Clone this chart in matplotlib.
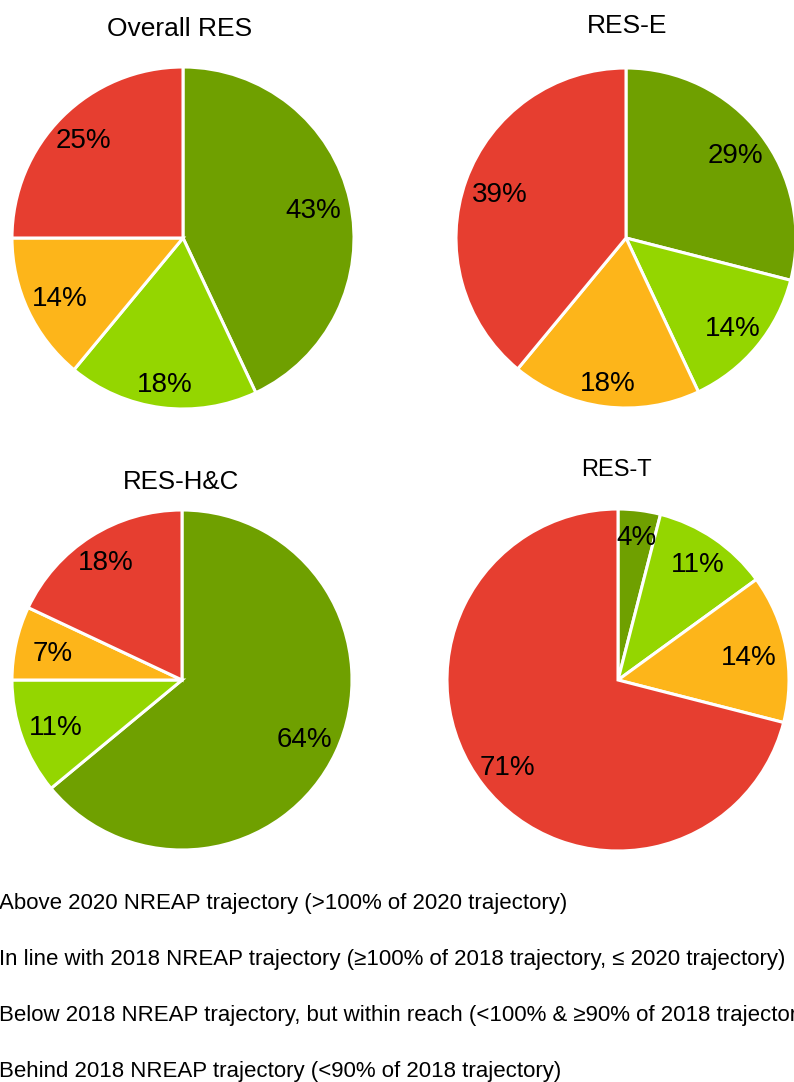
import matplotlib

matplotlib.use("Agg")
import matplotlib.pyplot as plt  # noqa: E402
import numpy as np  # noqa: E402

plt.rcParams["font.family"] = ["Liberation Sans", "DejaVu Sans"]

# categories, in wedge order (clockwise from 12 o'clock)
categories = [
    "Above 2020 NREAP trajectory (>100% of 2020 trajectory)",
    "In line with 2018 NREAP trajectory (\u2265100% of 2018 trajectory, \u2264 2020 trajectory)",
    "Below 2018 NREAP trajectory, but within reach (<100% & \u226590% of 2018 trajectory)",
    "Behind 2018 NREAP trajectory (<90% of 2018 trajectory)",
]
colors = ["#6FA000", "#94D600", "#FDB51A", "#E63E30"]

titles = ["Overall RES", "RES-E", "RES-H&C", "RES-T"]
overall_res = [43, 18, 14, 25]
res_e = [29, 14, 18, 39]
res_hc = [64, 11, 7, 18]
res_t = [4, 11, 14, 71]

W, H = 794, 1082
fig = plt.figure(figsize=(W / 100, H / 100), dpi=100)

# pie centre (px), radius (px), title baseline (px), title size
layout = [
    ((183, 238), 171, (180, 36), 19),
    ((626, 238), 170, (627, 33), 19),
    ((182, 680), 170, (181, 489), 18.6),
    ((618, 680), 171, (616, 476), 17),
]

for title, vals, (c, r, t, fs) in zip(titles, [overall_res, res_e, res_hc, res_t], layout):
    ax = fig.add_axes([(c[0] - r) / W, (H - c[1] - r) / H, 2 * r / W, 2 * r / H])
    wedges, _ = ax.pie(vals, colors=colors, startangle=90, counterclock=False, radius=1,
                       wedgeprops=dict(edgecolor="white", linewidth=2.2))
    # best-fit style labels: pushed further out near top/bottom, like Excel
    for w, v in zip(wedges, vals):
        ang = np.deg2rad((w.theta1 + w.theta2) / 2)
        d = 0.76 + 0.09 * abs(np.sin(ang))
        ax.text(d * np.cos(ang), d * np.sin(ang) - 0.015, f"{v}%",
                ha="center", va="center", fontsize=20, color="black")
    ax.set_xlim(-1, 1)
    ax.set_ylim(-1, 1)
    ax.set_aspect("equal")
    ax.axis("off")
    fig.text(t[0] / W, 1 - t[1] / H, title, ha="center", va="baseline", fontsize=fs)

legend_y = [903, 959, 1015, 1071]
for label, y in zip(categories, legend_y):
    fig.text(-1 / W, 1 - y / H, label, ha="left", va="center", fontsize=16)

fig.savefig("out.png", dpi=100)
